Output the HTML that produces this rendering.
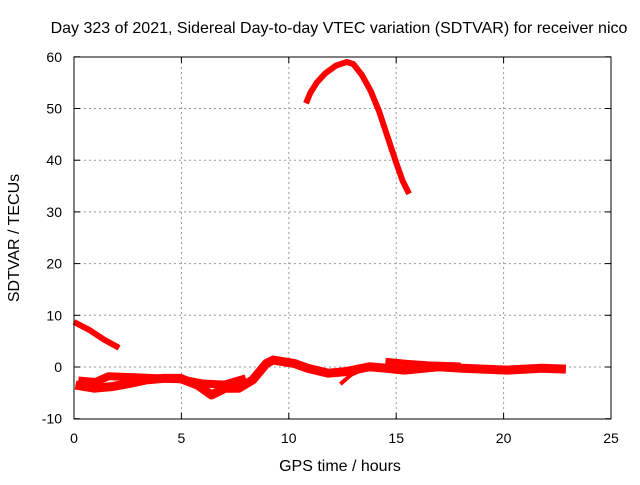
<!DOCTYPE html>
<html><head><meta charset="utf-8"><style>
body{margin:0;background:#fff}
svg text{font-family:"Liberation Sans",sans-serif;font-size:14px;fill:#000}
</style></head><body>
<svg id="chart" width="640" height="480" xmlns="http://www.w3.org/2000/svg">
<text x="339" y="33" text-anchor="middle" style="font-size:16px">Day 323 of 2021, Sidereal Day-to-day VTEC variation (SDTVAR) for receiver nico</text>
<text x="340" y="471" text-anchor="middle" style="font-size:16px">GPS time / hours</text>
<text transform="translate(19,238) rotate(-90)" text-anchor="middle" style="font-size:16px">SDTVAR / TECUs</text>
<g id="grid"></g><g id="ticks"></g><g id="series"></g>
<rect x="74" y="57" width="537" height="362" fill="none" stroke="#000" stroke-width="1"/>
</svg>
<script>
const xTicks=[0,5,10,15,20,25];
const yTicks=[-10,0,10,20,30,40,50,60];
const seriesArc=[[10.8,51],[11.0,53],[11.3,55],[11.7,56.8],[12.2,58.3],[12.7,59],[13.0,58.6],[13.4,56.5],[13.8,53.5],[14.2,49.5],[14.6,44.5],[15.0,39.5],[15.3,36],[15.6,33.5]];
const seriesEarly=[[0,8.7],[0.7,7.2],[1.4,5.3],[2.1,3.7]];
const seriesLow=[[0.07,-3.5],[0.95,-4.1],[1.75,-3.8],[2.55,-3.2],[3.35,-2.5],[4.15,-2.2],[4.95,-2.2],[5.75,-3.5],[6.4,-5.4],[7.04,-4.1],[7.68,-4.1],[8.32,-2.5],[8.96,0.7],[9.28,1.35],[10.24,0.7],[10.88,-0.25],[11.84,-1.2],[12.64,-0.9],[13.76,0.05],[14.56,-0.25],[15.37,-0.6],[16.97,0.05],[18.09,-0.25],[20.17,-0.6],[21.77,-0.25],[22.9,-0.4]];
const seriesUpper=[[0.2,-2.6],[1,-2.9],[1.6,-1.8],[3,-2.0],[5,-2.4],[6,-3.2],[7,-3.4],[8,-2.2]];
const seriesLate=[[14.5,1.2],[15.5,0.8],[16.5,0.5],[18,0.3]];
const seriesDip=[[12.4,-3.3],[12.9,-1.5],[13.4,-0.6]];
const X=v=>74+v*(537/25), Y=v=>367-v*5.17;
const NS="http://www.w3.org/2000/svg";
function mk(t,a,p){const e=document.createElementNS(NS,t);for(const k in a)e.setAttribute(k,a[k]);document.getElementById(p).appendChild(e);return e;}
xTicks.forEach(t=>{
 if(t>0&&t<25){const g=mk('line',{x1:X(t),x2:X(t),y1:57,y2:419,stroke:'#999','stroke-dasharray':'2,3'},'grid');
 
 }
 const l=mk('text',{x:X(t),y:443,'text-anchor':'middle'},'ticks');l.textContent=t;
 
 
 mk('line',{x1:X(t),x2:X(t),y1:419,y2:413,stroke:'#000'},'ticks');
 mk('line',{x1:X(t),x2:X(t),y1:57,y2:63,stroke:'#000'},'ticks');
});
yTicks.forEach(t=>{
 if(t>-10&&t<60){const g=mk('line',{x1:74,x2:611,y1:Y(t),y2:Y(t),stroke:'#999','stroke-dasharray':'2,3'},'grid');
 
 }
 const l=mk('text',{x:62,y:Y(t)+5,'text-anchor':'end'},'ticks');l.textContent=t;
 
 
 mk('line',{x1:74,x2:80,y1:Y(t),y2:Y(t),stroke:'#000'},'ticks');
 mk('line',{x1:605,x2:611,y1:Y(t),y2:Y(t),stroke:'#000'},'ticks');
});
function draw(d,w,name){
 const p=mk('polyline',{points:d.map(q=>X(q[0])+','+Y(q[1])).join(' '),fill:'none',stroke:'#f00','stroke-width':w,'stroke-linejoin':'round','stroke-linecap':'butt'},'series');
 
 
}
draw(seriesArc,6,'series-arc');
draw(seriesEarly,6,'series-early');
draw(seriesLow,9,'series-low');
draw(seriesUpper,8,'series-upper');
draw(seriesLate,6,'series-late');
draw(seriesDip,4,'series-dip');
</script>
</body></html>
